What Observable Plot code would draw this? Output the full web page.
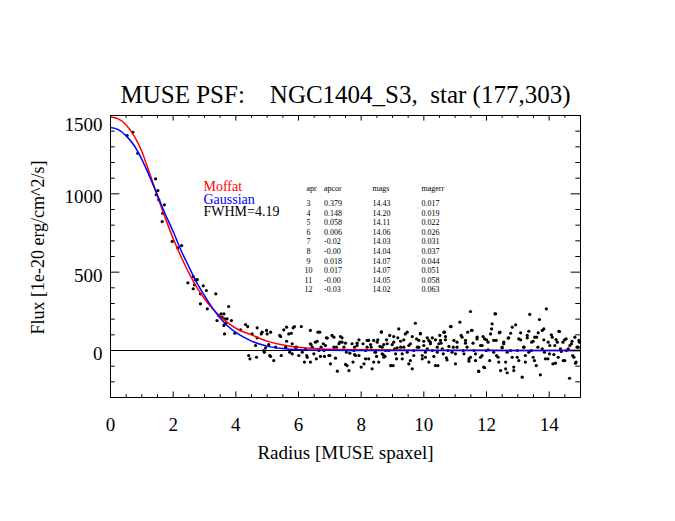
<!DOCTYPE html>
<html><head><meta charset="utf-8">
<script src="https://cdn.jsdelivr.net/npm/d3@7"></script>
<script src="https://cdn.jsdelivr.net/npm/@observablehq/plot@0.6"></script>
<style>
html,body{margin:0;padding:0;background:#fff;}
svg text{white-space:pre;}
</style></head><body><div id="chart"></div>
<script>
const chartTitle = "MUSE PSF:    NGC1404_S3,  star (177,303)";
const xTitle = "Radius [MUSE spaxel]";
const yTitle = "Flux [1e-20 erg/cm^2/s]";
const xDomain = [0, 15];
const yDomain = [-300, 1500];
const xTicks = [0, 2, 4, 6, 8, 10, 12, 14];
const xMinorTicks = [0.5,1,1.5,2.5,3,3.5,4.5,5,5.5,6.5,7,7.5,8.5,9,9.5,10.5,11,11.5,12.5,13,13.5,14.5];
const yTicks = [0, 500, 1000];
const yTopTick = [1500];
const yMinorTicks = [-200,-100,100,200,300,400,600,700,800,900,1100,1200,1300,1400];
const legendLabels = ["Moffat", "Gaussian", "FWHM=4.19"];
const legendColors = ["#ff0000", "#0000ff", "#000000"];
const tableHeaders = ["apr", "apcor", "mags", "magerr"];
const apr = [" 3", " 4", " 5", " 6", " 7", " 8", " 9", "10", "11", "12"];
const apcor = ["0.379","0.148","0.058","0.006","-0.02","-0.00","0.018","0.017","-0.00","-0.03"];
const mags = ["14.43","14.20","14.11","14.06","14.03","14.04","14.07","14.07","14.05","14.02"];
const magerr = ["0.017","0.019","0.022","0.026","0.031","0.037","0.044","0.051","0.058","0.063"];

// Moffat fit (red)
const moffatR = [0,0.25,0.5,0.75,1,1.25,1.5,1.75,2,2.25,2.5,2.75,3,3.25,3.5,3.75,4,4.5,5,5.5,6,6.5,7,8,9,10,12,15];
const moffatF = [1490,1478,1440,1372,1270,1130,985,845,715,600,495,405,330,268,218,176,142,100,60,35,20,13,8,5,3,2,1,0];
// Gaussian fit (blue)
const gaussR = [0,0.25,0.5,0.75,1,1.25,1.5,1.75,2,2.25,2.5,2.75,3,3.25,3.5,3.75,4,4.5,5,5.5,6,7,8,15];
const gaussF = [1423,1410,1370,1310,1220,1110,990,870,760,640,535,435,350,272,208,155,115,60,28,12,5,1,0,0];

// pixel samples: [radius, flux]
const samples = [
[0.53,1372],[0.71,1393],[0.87,1259],[1.44,1096],[1.51,1021],[1.46,994],[1.54,962],[1.72,930],[1.67,876],[1.65,823],[1.97,696],[2.15,655],[2.27,670],
[2.47,432],[2.64,472],[2.68,419],[2.71,451],[2.77,453],[2.64,394],[2.96,413],[3.06,383],[2.87,362],[2.87,298],[3.09,266],[3.36,362],[3.40,191],[3.46,223],[3.53,234],[3.62,234],[3.56,213],[3.64,202],[3.72,202],[3.77,281],[3.62,160],[3.67,174],[3.64,106],
[3.86,191],[4.31,166],[4.38,153],[4.45,-53],[4.41,-32],[4.52,106],[4.66,-43],[4.68,145],[4.81,106],[4.84,117],[4.89,0],[4.91,-11],[4.98,128],[5.0,106],[5.11,117],[5.08,-32],[5.21,-64],[5.27,21],[5.40,96],[5.45,-32],[5.53,132],[5.59,21],[5.62,149],[5.69,106],[5.72,-11],[5.80,-21],[5.87,153],[5.94,21],[6.01,-32],[6.09,153],[6.19,-74],[6.26,-32],[6.38,128],[6.38,43],[6.44,21],[6.49,-21],[6.54,53],[6.57,-53],[6.62,117],[6.68,117],[6.65,0],[6.72,21],[6.79,43],[6.83,-38],[6.89,81],[6.97,-32],[7.02,-85],[7.07,96],[7.24,-132],[7.21,21],[7.29,43],[7.34,89],[7.39,53],[7.45,21],[7.50,47],[7.53,-11],[7.55,-96],[7.61,-128],
[3.97,110],[4.15,132],[4.63,32],[4.68,81],[4.95,17],[5.05,38],[5.11,-38],[5.43,89],[5.62,59],[5.77,110],[5.83,145],[5.80,43],[5.90,21],[6.12,-11],[6.22,11],[6.28,-43],[6.40,38],[6.38,-74],[6.60,59],[6.70,-38],[6.81,0],[6.86,32],[6.92,79],[7.00,-32],[7.13,85],[7.13,21],[7.18,-49],[7.32,53],[7.39,81],[7.50,-89],[7.64,-17],
[7.71,43],[7.79,-26],[7.74,-74],[7.87,32],[7.93,-32],[8.00,-106],[8.06,43],[8.14,0],[8.19,64],[8.24,-53],[8.32,21],[8.35,-117],[8.40,64],[8.46,-11],[8.51,53],[8.56,-74],[8.60,26],[8.64,117],[8.67,-21],[8.72,38],[8.76,-38],[8.81,68],[8.88,0],[8.94,-96],[8.99,38],[9.04,89],[9.10,-21],[9.15,17],[9.20,138],[9.26,59],[9.31,-53],[9.36,21],[9.41,106],[9.47,-11],[9.52,-85],[9.57,43],[9.63,89],[9.68,-32],[9.73,174],[9.79,21],[9.84,64],[9.89,106],[9.95,-53],[10.0,32],[10.05,-11],[10.11,81],[10.16,-74],[10.21,53],[10.27,0],[10.32,-38],[10.37,68],[10.43,21],[10.45,-96],[10.51,96],[10.55,47],[10.62,-21],[10.66,117],[10.69,68],[10.74,-60],[10.80,26],[10.85,153],[10.90,-11],[10.96,64],[11.01,-85],[11.06,21],[11.15,181],[11.22,85],[11.28,-21],[11.33,47],[11.40,117],[11.44,-53],
[11.49,249],[11.49,-43],[11.54,128],[11.60,0],[11.65,-64],[11.70,85],[11.75,-134],[11.81,32],[11.86,-32],[11.91,-106],[11.94,74],[11.99,0],[12.05,53],[12.10,-64],[12.16,138],[12.18,170],[12.23,-11],[12.29,234],[12.31,64],[12.37,-43],[12.41,113],[12.45,-128],[12.50,21],[12.55,53],[12.61,-74],[12.66,-142],[12.69,79],[12.77,0],[12.82,149],[12.87,-106],[12.93,164],[12.98,-43],[13.03,74],[13.09,113],[13.14,-170],[13.19,21],[13.24,-74],[13.30,96],[13.35,-11],[13.38,230],[13.44,53],[13.49,-43],[13.54,85],[13.59,-96],[13.65,113],[13.69,198],[13.72,-155],[13.78,11],[13.83,138],[13.88,-53],[13.91,266],[13.97,53],[14.01,-21],[14.07,100],[14.12,-85],[14.18,32],[14.22,70],[14.29,-43],[14.33,121],[14.39,-6],[14.44,53],[14.50,-64],[14.54,74],[14.61,11],[14.65,-177],[14.71,43],[14.75,-32],[14.82,85],[14.86,-74],[14.93,21],[14.97,53],
[7.77,0],[7.82,-32],[7.79,21],[7.87,47],[7.93,68],[8.09,-85],[8.14,-53],[8.19,21],[8.24,64],[8.30,38],[8.40,-74],[8.44,-11],[8.49,-38],[8.53,68],[8.65,119],[8.67,21],[8.70,-26],[8.72,-43],[8.78,0],[8.83,43],[8.91,96],[8.96,-96],[9.02,-96],[9.04,53],[9.07,11],[9.13,-53],[9.17,81],[9.26,21],[9.31,-21],[9.36,68],[9.47,117],[9.52,32],[9.57,-64],[9.63,-117],[9.68,0],[9.77,74],[9.84,21],[9.89,110],[9.95,-32],[10.0,59],[10.05,-43],[10.11,11],[10.16,64],[10.21,43],[10.27,81],[10.37,-96],[10.43,-11],[10.48,43],[10.53,64],[10.59,11],[10.64,117],[10.69,89],[10.72,-47],[10.77,0],[10.87,153],[10.94,21],[11.01,-21],[11.06,53],[11.19,96],[11.26,0],[11.33,64],[11.38,21],[11.44,-68],[11.52,128],[11.57,47],[11.65,-21],[11.70,74],[11.75,-132],[11.81,-43],[11.86,32],[11.89,89],[11.94,-110],[12.00,68],[12.05,4],[12.13,106],[12.23,64],[12.27,234],[12.32,-32],[12.39,-74],[12.43,117],[12.50,17],[12.55,43],[12.61,-117],[12.66,-11],[12.71,81],[12.77,110],[12.82,-43],[12.87,-128],[12.98,0],[13.03,-64],[13.09,68],[13.19,21],[13.24,-32],[13.30,81],[13.35,123],[13.43,0],[13.49,59],[13.53,-64],[13.60,85],[13.64,21],[13.78,128],[13.83,68],[13.85,-11],[13.96,-53],[14.02,32],[14.10,85],[14.15,-26],[14.20,-81],[14.26,53],[14.31,123],[14.36,11],[14.45,-64],[14.49,68],[14.55,0],[14.66,32],[14.73,59],[14.79,-43],[14.84,-81],[14.89,21],[14.95,64]
];

const W = 675, H = 521, mL = 110, mR = 95, mT = 115, mB = 124;
const plotW = W - mL - mR, plotH = H - mT - mB;
const serif = "'Liberation Serif', 'Times New Roman', serif";
const moffat = moffatR.map((r, i) => ({r, f: moffatF[i]}));
const gauss = gaussR.map((r, i) => ({r, f: gaussF[i]}));

const tableCols = [
  {head: tableHeaders[0], vals: apr, hdx: 196, dx: 194},
  {head: tableHeaders[1], vals: apcor, hdx: 213.5, dx: 213.5},
  {head: tableHeaders[2], vals: mags, hdx: 262, dx: 262},
  {head: tableHeaders[3], vals: magerr, hdx: 311, dx: 311}
];
const tableMarks = tableCols.flatMap(c => [
  Plot.text([c.head], {text: d => d, frameAnchor: "top-left", textAnchor: "start", lineAnchor: "bottom", dx: c.hdx, dy: 75.5, fontSize: 8, fill: "black"}),
  Plot.text([c.vals.join("\n")], {text: d => d, frameAnchor: "top-left", textAnchor: "start", lineAnchor: "top", lineHeight: 1.2, dx: c.dx, dy: 83.6, fontSize: 8, fill: "black"})
]);
const legendDy = [75, 88.3, 100.5];
const legendMarks = legendLabels.map((t, i) =>
  Plot.text([t], {text: d => d, frameAnchor: "top-left", textAnchor: "start", lineAnchor: "bottom", dx: 93, dy: legendDy[i], fontSize: 14, fill: legendColors[i]}));

const chart = Plot.plot({
  width: W, height: H,
  marginLeft: mL, marginRight: mR, marginTop: mT, marginBottom: mB,
  style: {fontFamily: serif, background: "white", color: "black", overflow: "visible"},
  x: {domain: xDomain, axis: null},
  y: {domain: yDomain, axis: null},
  marks: [
    Plot.ruleY([0], {stroke: "black", strokeWidth: 1}),
    Plot.dot(samples, {x: d => d[0], y: d => d[1], r: 1.6, fill: "black", stroke: "none"}),
    Plot.line(moffat, {x: "r", y: "f", stroke: "#ff0000", strokeWidth: 1.5, curve: "monotone-x", clip: true}),
    Plot.line(gauss, {x: "r", y: "f", stroke: "#0000ff", strokeWidth: 1.5, curve: "monotone-x", clip: true}),
    Plot.frame({stroke: "black", strokeWidth: 1}),
    Plot.ruleX(xMinorTicks, {insetTop: plotH - 2.8, stroke: "black"}),
    Plot.ruleX(xTicks, {insetTop: plotH - 5.6, stroke: "black"}),
    Plot.ruleX(xMinorTicks, {insetBottom: plotH - 2.8, stroke: "black"}),
    Plot.ruleX(xTicks, {insetBottom: plotH - 5.6, stroke: "black"}),
    Plot.ruleY(yMinorTicks, {insetRight: plotW - 4.7, stroke: "black"}),
    Plot.ruleY([...yTicks, ...yTopTick], {insetRight: plotW - 9.4, stroke: "black"}),
    Plot.ruleY(yMinorTicks, {insetLeft: plotW - 4.7, stroke: "black"}),
    Plot.ruleY([...yTicks, ...yTopTick], {insetLeft: plotW - 9.4, stroke: "black"}),
    Plot.text(xTicks, {x: d => d, text: d => String(d), frameAnchor: "bottom", lineAnchor: "bottom", dy: 33, fontSize: 19, fill: "black"}),
    Plot.text(yTicks, {y: d => d, text: d => String(d), frameAnchor: "left", textAnchor: "end", lineAnchor: "bottom", dx: -8, dy: 9.5, fontSize: 19, fill: "black"}),
    Plot.text(yTopTick, {y: d => d, text: d => String(d), frameAnchor: "left", textAnchor: "end", lineAnchor: "bottom", dx: -8, dy: 15, fontSize: 19, fill: "black"}),
    Plot.text([chartTitle], {text: d => d, frameAnchor: "top", textAnchor: "middle", lineAnchor: "bottom", dy: -13, fontSize: 25, fill: "black"}),
    Plot.text([xTitle], {text: d => d, frameAnchor: "bottom", textAnchor: "middle", lineAnchor: "bottom", dy: 61, fontSize: 19, fill: "black"}),
    Plot.text([yTitle], {text: d => d, frameAnchor: "left", textAnchor: "middle", rotate: -90, lineAnchor: "middle", dx: -72, dy: -9, fontSize: 18, fill: "black"}),
    ...legendMarks,
    ...tableMarks
  ]
});
document.getElementById("chart").appendChild(chart);
</script></body></html>
